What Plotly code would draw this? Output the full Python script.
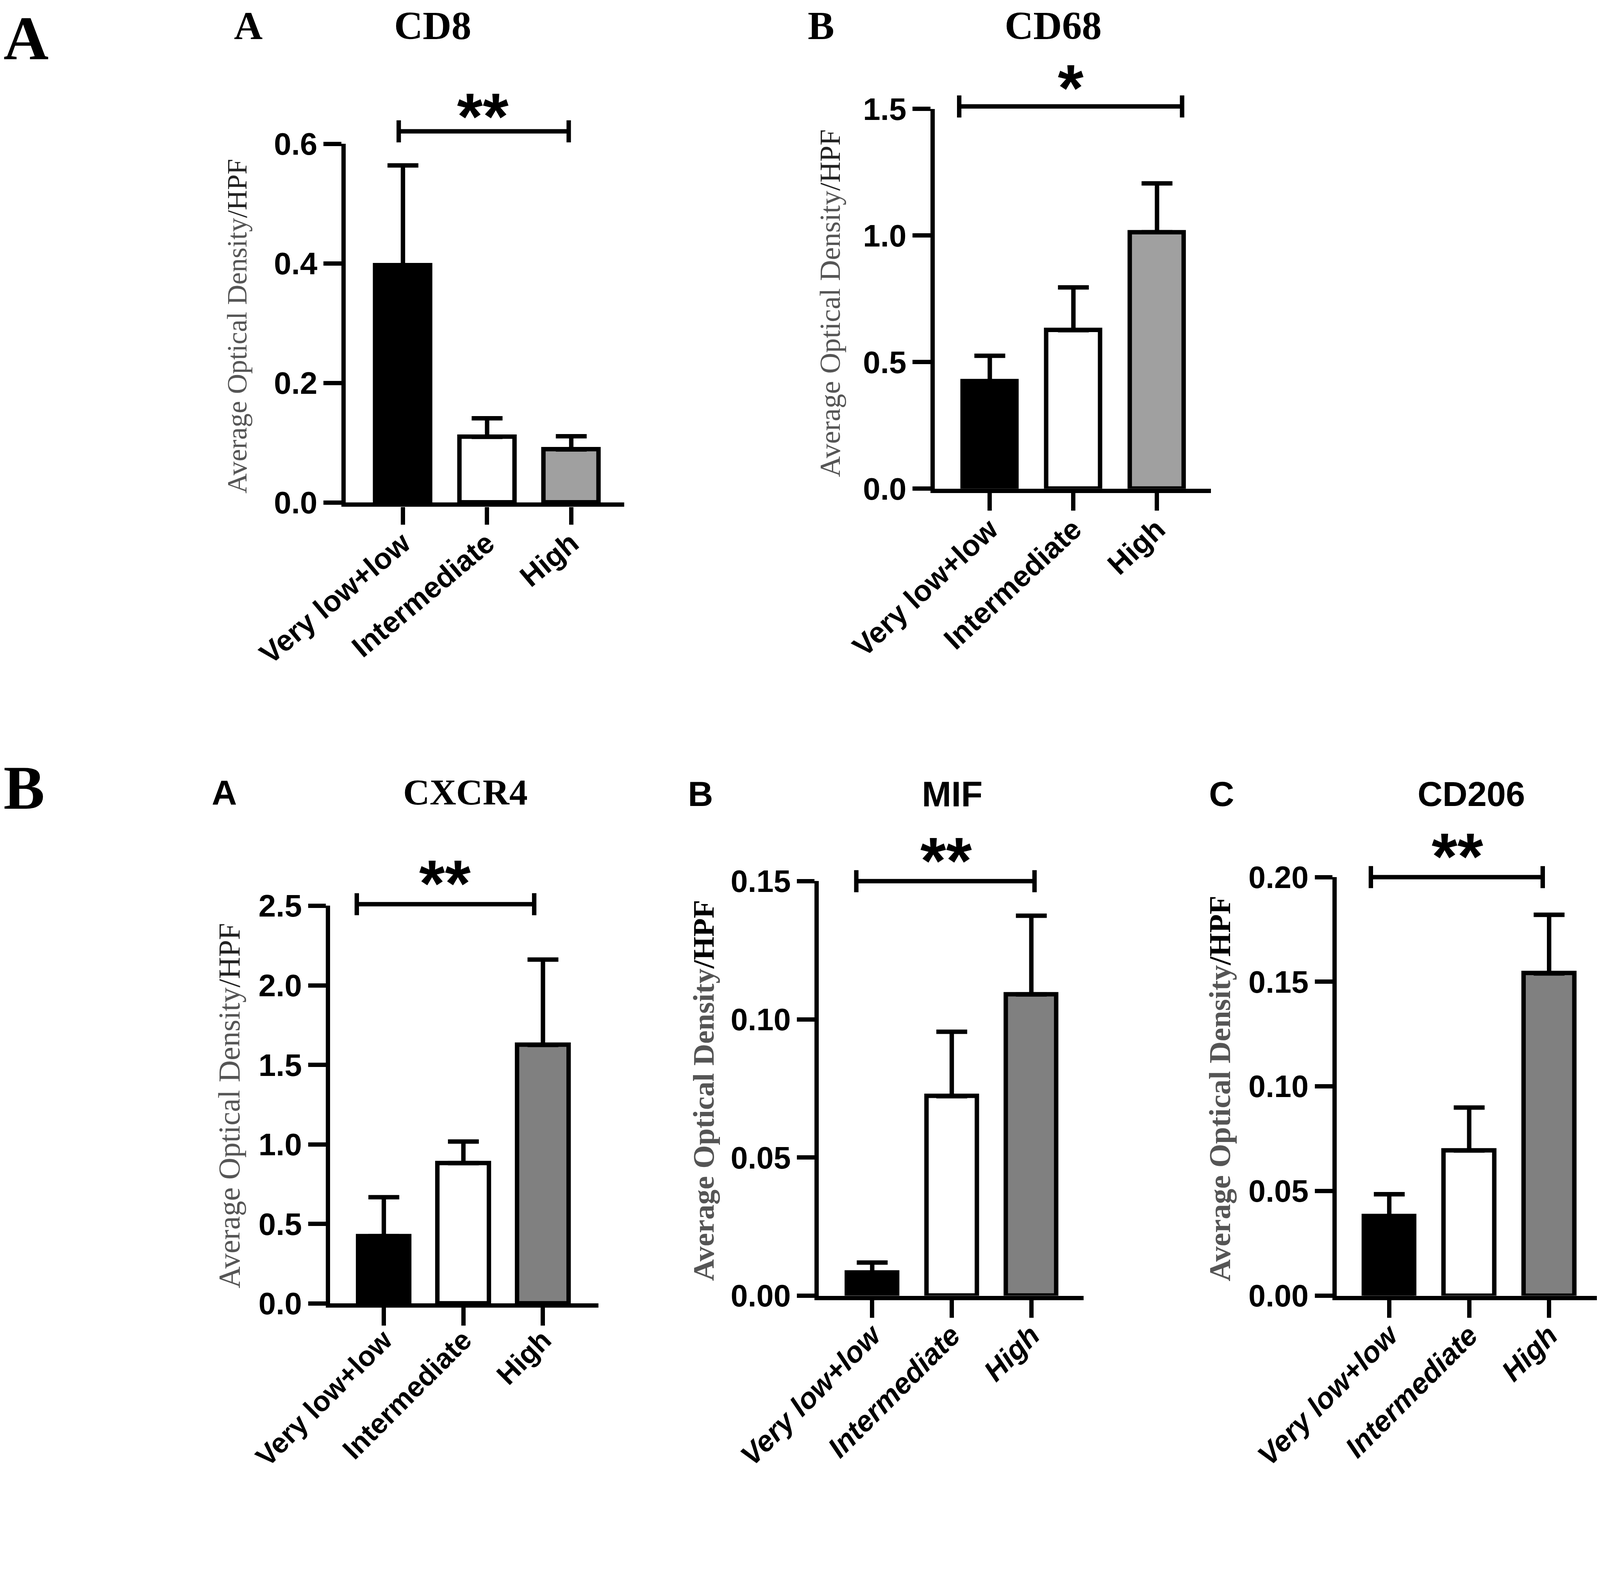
import plotly.graph_objects as go

# reference canvas (pixels) and the CSS size actually visible in the viewer
RW, RH = 4354, 4016
S = 4096 / RW
W, H = round(RW * S), round(RH * S)

# ---------------- data ----------------
categories = ["Very low+low", "Intermediate", "High"]

cd8_mean = [0.397, 0.110, 0.089]
cd8_err = [0.167, 0.031, 0.022]
cd8_ticks = [0.0, 0.2, 0.4, 0.6]
cd8_ticklabels = ["0.0", "0.2", "0.4", "0.6"]

cd68_mean = [0.424, 0.626, 1.013]
cd68_err = [0.101, 0.169, 0.193]
cd68_ticks = [0.0, 0.5, 1.0, 1.5]
cd68_ticklabels = ["0.0", "0.5", "1.0", "1.5"]

cxcr4_mean = [0.423, 0.882, 1.625]
cxcr4_err = [0.245, 0.136, 0.537]
cxcr4_ticks = [0.0, 0.5, 1.0, 1.5, 2.0, 2.5]
cxcr4_ticklabels = ["0.0", "0.5", "1.0", "1.5", "2.0", "2.5"]

mif_mean = [0.0083, 0.0722, 0.109]
mif_err = [0.0037, 0.0233, 0.0285]
mif_ticks = [0.0, 0.05, 0.10, 0.15]
mif_ticklabels = ["0.00", "0.05", "0.10", "0.15"]

cd206_mean = [0.0379, 0.0694, 0.154]
cd206_err = [0.0106, 0.0205, 0.028]
cd206_ticks = [0.0, 0.05, 0.10, 0.15, 0.20]
cd206_ticklabels = ["0.00", "0.05", "0.10", "0.15", "0.20"]

# significance brackets: (from, to, height, label)
cd8_sig = (-0.05, 1.97, 0.621, "**")
cd68_sig = (-0.366, 2.30, 1.51, "*")
cxcr4_sig = (-0.34, 1.89, 2.51, "**")
mif_sig = (-0.20, 2.04, 0.150, "**")
cd206_sig = (-0.23, 1.92, 0.200, "**")

# ---------------- styles / geometry (reference pixels) ----------------
SERIF = "Liberation Serif, Times New Roman, serif"
SANS = "Liberation Sans, Arial, sans-serif"

panels = [
    dict(mean=cd8_mean, err=cd8_err, ticks=cd8_ticks, tl=cd8_ticklabels, sig=cd8_sig,
         ax=932, right=1690, y0=1359, ytop=383, c0=1088, step=229, bw=150,
         ymax=0.6, high="#a0a0a0", ticksize=85, xsize=80, italic=False, angle=-40,
         standoff=28, star_x=0.95, star_up=61,
         ytitle=dict(x=637, y=879, size=76, bold=False)),
    dict(mean=cd68_mean, err=cd68_err, ticks=cd68_ticks, tl=cd68_ticklabels, sig=cd68_sig,
         ax=2535, right=3287, y0=1321, ytop=288, c0=2685, step=227.5, bw=147,
         ymax=1.5, high="#a0a0a0", ticksize=85, xsize=80, italic=False, angle=-43,
         standoff=28, star_x=0.967, star_up=71,
         ytitle=dict(x=2250, y=817, size=79, bold=False)),
    dict(mean=cxcr4_mean, err=cxcr4_err, ticks=cxcr4_ticks, tl=cxcr4_ticklabels, sig=cxcr4_sig,
         ax=890, right=1620, y0=3538, ytop=2456, c0=1036, step=216.5, bw=140,
         ymax=2.5, high="#808080", ticksize=85, xsize=77, italic=False, angle=-45,
         standoff=36, star_x=0.77, star_up=77,
         ytitle=dict(x=615, y=3000, size=83, bold=False)),
    dict(mean=mif_mean, err=mif_err, ticks=mif_ticks, tl=mif_ticklabels, sig=mif_sig,
         ax=2220, right=2940, y0=3517, ytop=2389, c0=2365, step=216.5, bw=137,
         ymax=0.15, high="#808080", ticksize=84, xsize=79, italic=True, angle=-45,
         standoff=30, star_x=0.93, star_up=76,
         ytitle=dict(x=1906, y=2959, size=82, bold=True)),
    dict(mean=cd206_mean, err=cd206_err, ticks=cd206_ticks, tl=cd206_ticklabels, sig=cd206_sig,
         ax=3629, right=4349, y0=3517, ytop=2378, c0=3772, step=217.5, bw=138,
         ymax=0.20, high="#808080", ticksize=84, xsize=79, italic=True, angle=-45,
         standoff=30, star_x=0.855, star_up=77,
         ytitle=dict(x=3311, y=2953, size=83, bold=True)),
]

LW = 12 * S
STAR = 180

fig = go.Figure()
layout = dict(
    width=W, height=H, margin=dict(l=0, r=0, t=0, b=0, autoexpand=False),
    paper_bgcolor="white", plot_bgcolor="rgba(0,0,0,0)",
    showlegend=False, bargap=0, shapes=[], annotations=[],
)

for i, p in enumerate(panels):
    n = "" if i == 0 else str(i + 1)
    xa, ya = "x" + n, "y" + n
    xpos = list(range(len(categories)))
    fig.add_trace(go.Bar(
        x=xpos, y=p["mean"], xaxis=xa, yaxis=ya,
        width=p["bw"] / p["step"],
        marker=dict(color=["black", "white", p["high"]], line=dict(color="black", width=LW)),
        error_y=dict(type="data", symmetric=False, array=p["err"], arrayminus=[0] * 3,
                     color="black", thickness=LW, width=42 * S),
    ))
    d0, d1 = 1 - p["y0"] / RH, 1 - p["ytop"] / RH
    xr = [(p["ax"] - p["c0"]) / p["step"], (p["right"] - p["c0"]) / p["step"]]
    layout["xaxis" + n] = dict(
        domain=[p["ax"] / RW, p["right"] / RW], range=xr, anchor=ya,
        tickmode="array", tickvals=xpos, ticktext=categories, tickangle=p["angle"],
        ticklabelstandoff=-int(round(p["standoff"] * S)),
        showline=True, linecolor="black", linewidth=LW,
        ticks="outside", ticklen=48 * S, tickwidth=LW, tickcolor="black",
        showgrid=False, zeroline=False, fixedrange=True,
        tickfont=dict(family=SANS, size=p["xsize"] * S, color="black", weight="bold",
                      style="italic" if p["italic"] else "normal"),
    )
    layout["yaxis" + n] = dict(
        domain=[d0, d1], range=[0, p["ymax"]], anchor=xa,
        tickmode="array", tickvals=p["ticks"], ticktext=p["tl"],
        showline=True, linecolor="black", linewidth=LW,
        ticks="outside", ticklen=48 * S, tickwidth=LW, tickcolor="black",
        showgrid=False, zeroline=False, fixedrange=True,
        tickfont=dict(family=SANS, size=p["ticksize"] * S, color="black", weight="bold"),
    )

    def ypaper(v, p=p, d0=d0, d1=d1):
        return d0 + v / p["ymax"] * (d1 - d0)

    # significance bracket (x through the data axis, y on paper so it is not clipped)
    s0, s1, sy, lab = p["sig"]
    layout["shapes"].append(dict(type="line", xref=xa, yref="paper", x0=s0, x1=s1,
                                 y0=ypaper(sy), y1=ypaper(sy),
                                 line=dict(color="black", width=LW)))
    for sx in (s0, s1):
        layout["shapes"].append(dict(type="line", xref=xa, yref="paper", x0=sx, x1=sx,
                                     ysizemode="pixel", yanchor=ypaper(sy),
                                     y0=-30 * S, y1=30 * S,
                                     line=dict(color="black", width=LW)))
    layout["annotations"].append(dict(
        xref=xa, yref="paper", x=p["star_x"], y=ypaper(sy), text=lab,
        showarrow=False, xanchor="center", yanchor="middle",
        yshift=(p["star_up"] - 20) * S,
        font=dict(family=SANS, size=STAR * S, color="black", weight="bold")))
    # y-axis title
    t = p["ytitle"]
    if t["bold"]:
        txt = "<b>Average Optical Density</b><span style='color:#000000'><b>/HPF</b></span>"
    else:
        txt = "Average Optical Density<span style='color:#222222'>/HPF</span>"
    layout["annotations"].append(dict(
        xref="paper", yref="paper", x=t["x"] / RW, y=1 - t["y"] / RH, text=txt,
        textangle=-90, showarrow=False, xanchor="center", yanchor="middle",
        font=dict(family=SERIF, size=t["size"] * S, color="#555555")))

# panel titles and letters: (text, x px, y px or None for top edge, family, size, x anchor)
labels = [
    ("A", 0, None, SERIF, 170, "left"),
    ("B", 0, 2135, SERIF, 168, "left"),
    ("A", 667, None, SERIF, 108, "center"),
    ("CD8", 1169, None, SERIF, 108, "center"),
    ("B", 2226, None, SERIF, 108, "center"),
    ("CD68", 2857, None, SERIF, 108, "center"),
    ("A", 602, 2148, SANS, 95, "center"),
    ("CXCR4", 1258, 2146, SERIF, 100, "center"),
    ("B", 1898, 2152, SANS, 95, "center"),
    ("MIF", 2582, 2152, SANS, 96, "center"),
    ("C", 3316, 2152, SANS, 95, "center"),
    ("CD206", 3995, 2152, SANS, 94, "center"),
]
for txt, lx, ly, fam, sz, xanc in labels:
    layout["annotations"].append(dict(
        xref="paper", yref="paper", x=lx / RW,
        y=1 if ly is None else 1 - ly / RH,
        yanchor="top" if ly is None else "middle",
        xanchor=xanc, text=txt, showarrow=False, borderpad=0,
        font=dict(family=fam, size=sz * S, color="black", weight="bold")))

fig.update_layout(**layout)
fig.write_html("out.html")
